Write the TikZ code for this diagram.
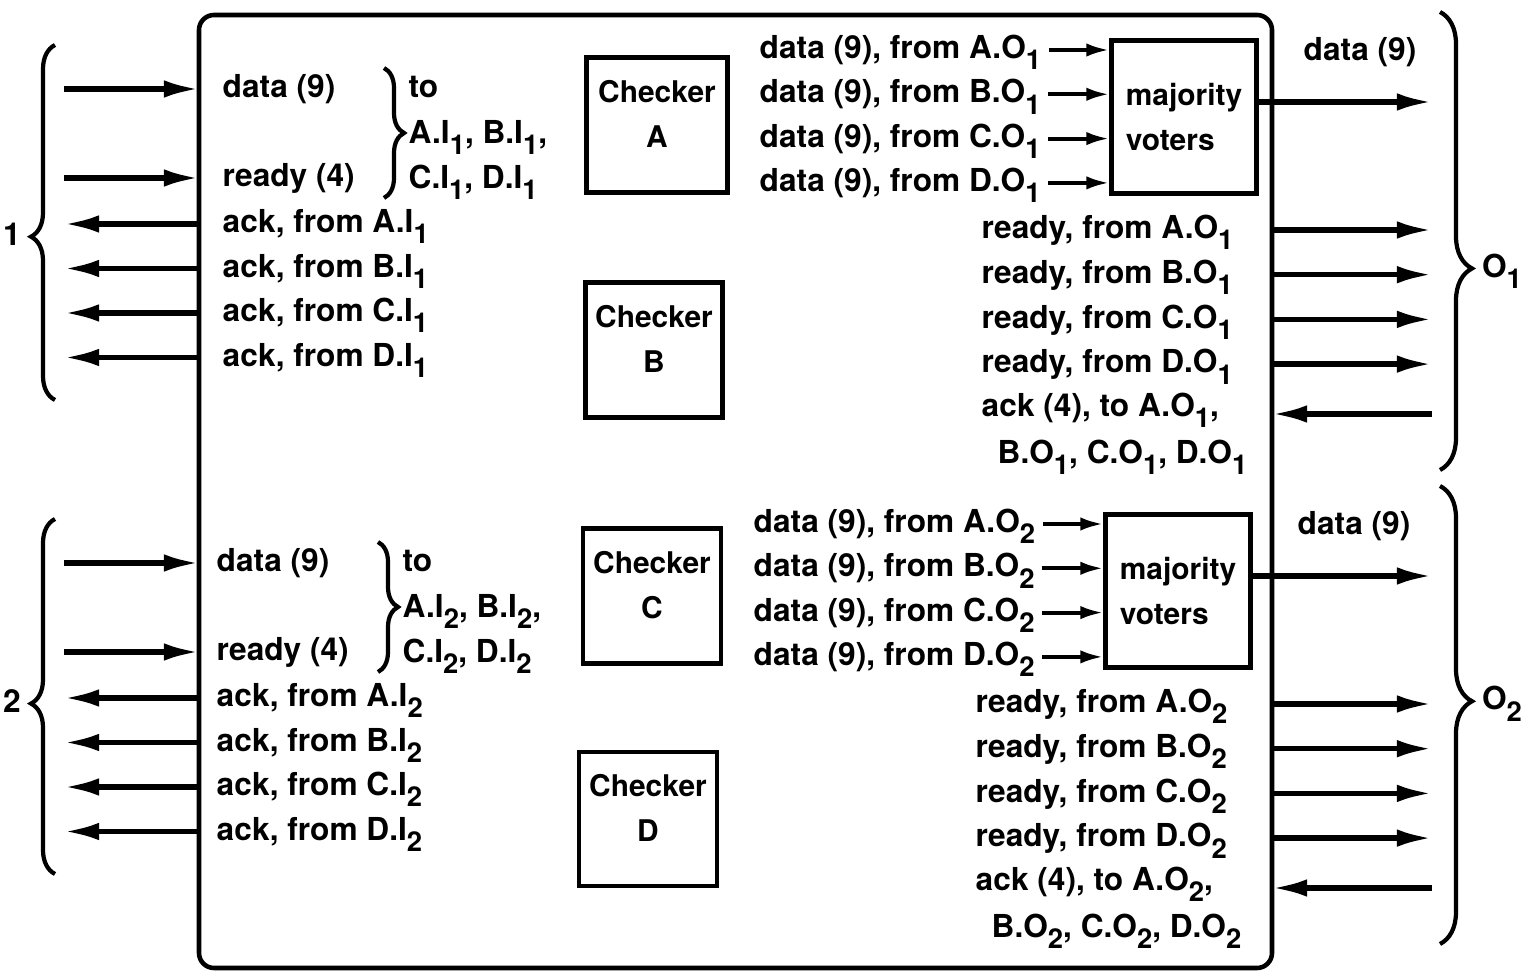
\documentclass[tikz,border=0pt]{standalone}
\usepackage{fontspec}
\setmainfont{TeX Gyre Heros}
\usetikzlibrary{arrows.meta}
\usetikzlibrary{decorations.pathreplacing}

\newcommand{\lo}[1]{\raisebox{-0.36em}{\fontsize{7.8}{8}\selectfont #1}}

\begin{document}
\begin{tikzpicture}[x=0.1mm, y=-0.1mm,
  lbl/.style={font=\fontsize{9}{12.6}\bfseries\selectfont, inner sep=0pt, text height=6.5pt, text depth=1.6pt},
  unittxt/.style={font=\fontsize{8.5}{12.6}\bfseries\selectfont, inner sep=0pt, align=center},
  sig/.style={line width=1.5pt, -{Latex[length=10pt, width=5pt]}},
  feed/.style={line width=1.1pt, -{Latex[length=6.5pt, width=3.8pt]}},
  unit/.style={draw, line width=1.3pt, inner sep=0pt},
  brc/.style={decorate, decoration={brace, amplitude=#1, aspect=\asp}, line width=1.2pt}]
\useasboundingbox (0,0) rectangle (1537,973);

% frame and the x positions of the ports
\coordinate (fw) at (199,0);
\coordinate (fe) at (1272,0);
\coordinate (iw) at (64,0);
\coordinate (oe) at (1432,0);
\draw[line width=1.3pt, rounded corners=1.5mm] (199,15) rectangle (1272,968);

\node[unit, minimum width=14.1mm, minimum height=13.5mm] (chkA) at (657,125) {};
\node[unit, minimum width=13.7mm, minimum height=13.5mm] (chkB) at (654,350) {};
\node[unit, minimum width=13.8mm, minimum height=13.5mm] (chkC) at (652,596) {};
\node[unit, minimum width=13.8mm, minimum height=13.4mm] (chkD) at (648,819) {};
\foreach \c in {A,B,C,D}
  \node[unittxt] (chk\c t) at ([yshift=1.1mm]chk\c.center) {Checker\\\c};

\foreach \g/\oy/\ox/\ai/\ao in {1/0/0/0.46/0.56, 2/474/-6/0.48/0.47}{
  % input side
  \def\asp{\ai}
  \draw[brc=2.4mm] (55,400+\oy) -- (55,45+\oy);
  \node[lbl] (in\g) at (12,{400-\ai*355+\oy}) {\g};
  \node[lbl, anchor=west] (dat\g) at (222+\ox,89+\oy) {data (9)};
  \node[lbl, anchor=west] (rdy\g) at (222+\ox,178+\oy) {ready (4)};
  \draw[sig] (dat\g.west -| iw) -- (dat\g.west -| fw);
  \draw[sig] (rdy\g.west -| iw) -- (rdy\g.west -| fw);
  \def\asp{0.5}
  \draw[brc=2mm] (384+\ox,68+\oy) -- (384+\ox,198+\oy);
  \node[lbl, anchor=west] (to\g) at (408+\ox,89+\oy) {to};
  \node[lbl, anchor=west] (tab\g) at (408+\ox,135+\oy) {A.I\lo{\g}, B.I\lo{\g},};
  \node[lbl, anchor=west] (tcd\g) at (408+\ox,180+\oy) {C.I\lo{\g}, D.I\lo{\g}};
  \foreach \k [count=\j] in {A,B,C,D}{
    \node[lbl, anchor=west] (ack\g\k) at (222+\ox,179.5+44.5*\j+\oy) {ack, from \k.I\lo{\g}};
    \draw[sig] (ack\g\k.west -| fw) -- (ack\g\k.west -| iw);
  }
  % voters
  \node[unit, unittxt, align=left, minimum width=14.5mm, minimum height=15.3mm] (mv\g) at (1184+\ox,117+\oy) {majority\\voters};
  \foreach \k [count=\j] in {A,B,C,D}{
    \node[lbl, anchor=west] (do\g\k) at (759+\ox,5.7+44.3*\j+\oy) {data (9), from \k.O\lo{\g}};
    \draw[feed] ([xshift=0.7mm]do\g\k.east) -- (do\g\k.east -| mv\g.west);
  }
  \node[lbl] (dq\g) at (1360+\ox,52+\oy) {data (9)};
  \draw[sig] ([yshift=1.5mm]mv\g.east) -- ([yshift=1.5mm]mv\g.east -| oe);
  % output side
  \foreach \k [count=\j] in {A,B,C,D}{
    \node[lbl, anchor=west] (ro\g\k) at (981+\ox,185.3+44.7*\j+\oy) {ready, from \k.O\lo{\g}};
    \draw[sig] (ro\g\k.west -| fe) -- (ro\g\k.west -| oe);
  }
  \node[lbl, anchor=west] (ak\g) at (981+\ox,408+\oy) {ack (4), to A.O\lo{\g},};
  \node[lbl, anchor=west] (akb\g) at (997+\ox,455+\oy) {B.O\lo{\g}, C.O\lo{\g}, D.O\lo{\g}};
  \draw[sig] ([yshift=-0.6mm]ak\g.west -| oe) -- ([yshift=-0.6mm]ak\g.west -| fe);
  \def\asp{\ao}
  \draw[brc=3.2mm] (1440,12+\oy) -- (1440,470+\oy);
  \node[lbl] (out\g) at (1502,{12+\ao*458+\oy}) {O\lo{\g}};
}
\end{tikzpicture}
\end{document}
